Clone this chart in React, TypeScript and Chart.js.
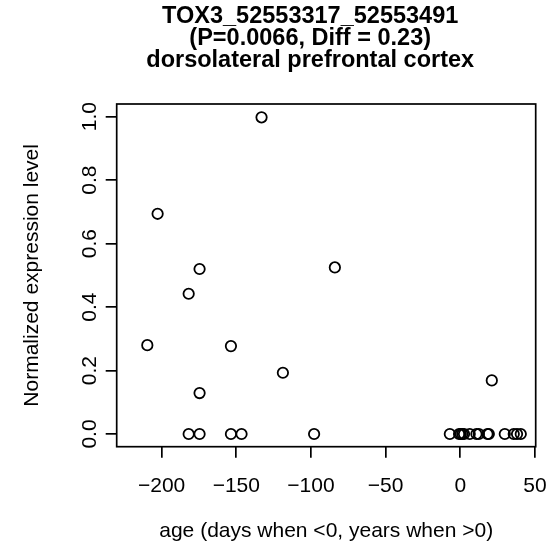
import React, { useEffect, useRef } from 'react';
import { Chart, registerables } from 'chart.js';

Chart.register(...registerables);

const TITLE_LINES = ['TOX3_52553317_52553491', '(P=0.0066, Diff = 0.23)', 'dorsolateral prefrontal cortex'];
const X_LABEL = 'age (days when <0, years when >0)';
const Y_LABEL = 'Normalized expression level';
const X_TICKS = [-200, -150, -100, -50, 0, 50];
const Y_TICKS = [0, 0.2, 0.4, 0.6, 0.8, 1.0];
const X_RANGE = [-230.1, 50.5];
const Y_RANGE = [-0.04, 1.04];

const AGES = [
  -209.6, -202.7, -181.9, -181.9, -174.6, -174.6, -174.6, -153.6, -153.6, -146.5,
  -133.1, -118.8, -97.9, -84.0, -7.0, -0.8, 0.3, 1.4, 2.5, 6.3,
  10.8, 12.4, 18.2, 19.1, 21.1, 29.8, 35.8, 38.0, 40.5,
];
const EXPRESSION = [
  0.280, 0.694, 0.442, 0, 0.520, 0.129, 0, 0.277, 0, 0,
  0.998, 0.193, 0, 0.525, 0, 0, 0, 0, 0, 0,
  0, 0, 0, 0, 0.169, 0, 0, 0, 0,
];

const FONT = "'Liberation Sans', Arial, Helvetica, sans-serif";
const LINE_W = 1.7;
const TITLE_SHIFT = -16;

const boxPlugin = {
  id: 'rBox',
  afterLayout(chart: any) {
    const t = chart.titleBlock;
    if (t) {
      t.left += TITLE_SHIFT;
      t.right += TITLE_SHIFT;
    }
  },
  afterDraw(chart: any) {
    const { ctx, chartArea: a } = chart;
    ctx.save();
    ctx.strokeStyle = '#000';
    ctx.lineWidth = LINE_W;
    ctx.strokeRect(a.left, a.top, a.right - a.left, a.bottom - a.top);
    ctx.restore();
  },
};

export default function App() {
  const ref = useRef<HTMLCanvasElement>(null);
  useEffect(() => {
    const chart = new Chart(ref.current as HTMLCanvasElement, {
      type: 'scatter',
      data: {
        datasets: [
          {
            data: AGES.map((x, i) => ({ x, y: EXPRESSION[i] })),
            pointStyle: 'circle',
            pointRadius: 5.2,
            pointBorderWidth: 1.8,
            pointBorderColor: '#000',
            pointBackgroundColor: 'rgba(0,0,0,0)',
            showLine: false,
          },
        ],
      },
      options: {
        responsive: false,
        animation: false,
        events: [],
        layout: { padding: { left: 0, right: 13.3, top: 0, bottom: 0 } },
        plugins: {
          legend: { display: false },
          tooltip: { enabled: false },
          title: {
            display: true,
            text: TITLE_LINES,
            fullSize: false,
            color: '#000',
            font: { family: FONT, size: 23.5, weight: 'bold', lineHeight: '22px' },
            padding: { top: 6, bottom: 32 },
          },
        },
        scales: {
          x: {
            type: 'linear',
            position: 'bottom',
            min: X_RANGE[0],
            max: X_RANGE[1],
            afterBuildTicks: (s: any) => {
              s.ticks = X_TICKS.map((value) => ({ value }));
            },
            afterFit: (s: any) => {
              s.height = 106.3;
              s.paddingLeft = 0;
              s.paddingRight = 0;
            },
            grid: { display: true, drawOnChartArea: false, drawTicks: true, tickLength: 11, color: '#000', lineWidth: LINE_W },
            border: { display: false },
            ticks: {
              autoSkip: false,
              maxRotation: 0,
              minRotation: 0,
              padding: 16.2,
              color: '#000',
              font: { family: FONT, size: 21 },
              callback: (v: any) => (Number(v) < 0 ? '\u2212' + Math.abs(Number(v)) : String(v)),
            },
            title: {
              display: true,
              text: X_LABEL,
              color: '#000',
              font: { family: FONT, size: 21 },
              padding: { top: 0, bottom: 9.4 },
            },
          },
          y: {
            type: 'linear',
            position: 'left',
            min: Y_RANGE[0],
            max: Y_RANGE[1],
            afterBuildTicks: (s: any) => {
              s.ticks = Y_TICKS.map((value) => ({ value }));
            },
            afterFit: (s: any) => {
              s.width = 116.7;
              s.paddingTop = 0;
              s.paddingBottom = 0;
            },
            grid: { display: true, drawOnChartArea: false, drawTicks: true, tickLength: 11, color: '#000', lineWidth: LINE_W },
            border: { display: false },
            ticks: {
              autoSkip: false,
              minRotation: 90,
              maxRotation: 90,
              crossAlign: 'center',
              padding: 1.1,
              color: '#000',
              font: { family: FONT, size: 21 },
              callback: (v: any) => Number(v).toFixed(1),
            },
            title: {
              display: true,
              text: Y_LABEL,
              color: '#000',
              font: { family: FONT, size: 21 },
              padding: { top: 19.4, bottom: 0 },
            },
          },
        },
      },
      plugins: [boxPlugin],
    } as any);
    return () => chart.destroy();
  }, []);
  return (
    <div style={{ position: 'absolute', left: 0, top: 0, width: 549, height: 553 }}>
      <canvas ref={ref} width={549} height={553} style={{ display: 'block', width: 549, height: 553 }} />
    </div>
  );
}
